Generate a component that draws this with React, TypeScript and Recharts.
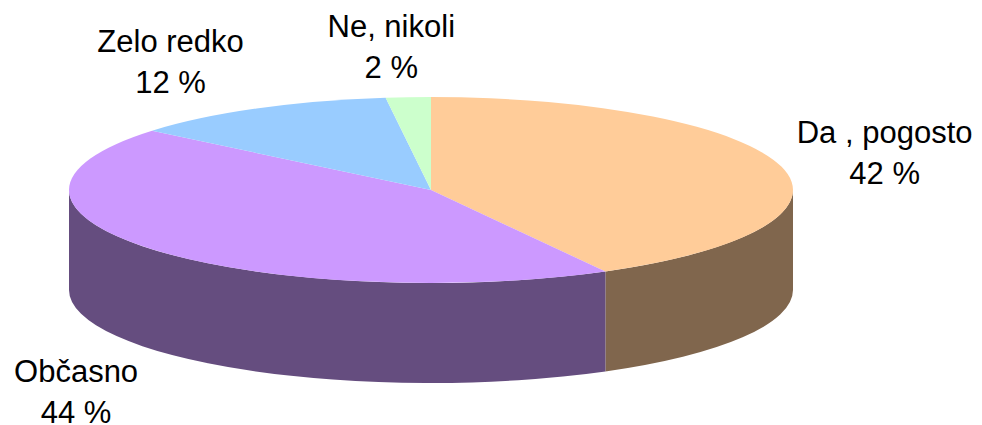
import React from 'react';
import { PieChart, Pie } from 'recharts';

const CATEGORIES = ['Da , pogosto', 'Občasno', 'Zelo redko', 'Ne, nikoli'];
const VALUES = [42, 44, 12, 2];
const VALUE_LABELS = ['42 %', '44 %', '12 %', '2 %'];
const TOP_COLORS = ['#FFCC99', '#CC99FF', '#99CCFF', '#CCFFCC'];
const SIDE_COLORS = ['#80664D', '#654D7F', '#4D6680', '#668066'];

// layout (not data)
const TILT = 93 / 362;
const DEPTH = 100 / 362;
const LABEL_OFFSETS: [number, number][] = [
  [103, -24],
  [-76, 133],
  [-86, -57],
  [-17, -60.5],
];
const FONT = "Arial, 'Liberation Sans', sans-serif";
const FONT_SIZE = 31;
const LINE_GAP = 41;

const data = CATEGORIES.map((name, i) => ({ name, value: VALUES[i] }));
const RAD = Math.PI / 180;

function geom(p: any) {
  const { cx, cy, outerRadius } = p;
  const rx = outerRadius;
  const ry = outerRadius * TILT;
  const depth = outerRadius * DEPTH;
  const pt = (a: number, dy = 0): [number, number] => [
    cx + rx * Math.cos(a * RAD),
    cy - ry * Math.sin(a * RAD) + dy,
  ];
  return { cx, cy, rx, ry, depth, pt };
}

const renderSide = (p: any) => {
  const { startAngle, endAngle, index } = p;
  const { rx, ry, depth, pt } = geom(p);
  const hi = Math.max(startAngle, endAngle);
  const lo = Math.min(startAngle, endAngle);
  const paths: string[] = [];
  for (const k of [-1, 0, 1]) {
    const top = 360 * k;
    const bot = -180 + 360 * k;
    const a1 = Math.min(hi, top);
    const a2 = Math.max(lo, bot);
    if (a1 - a2 > 0.01) {
      const [x1, y1] = pt(a1);
      const [x2, y2] = pt(a2);
      const [bx2, by2] = pt(a2, depth);
      const [bx1, by1] = pt(a1, depth);
      paths.push(
        `M${x1},${y1} A${rx},${ry} 0 0 1 ${x2},${y2} L${bx2},${by2} A${rx},${ry} 0 0 0 ${bx1},${by1} Z`
      );
    }
  }
  return (
    <g key={`side-${index}`}>
      {paths.map((d, j) => (
        <path key={j} d={d} fill={SIDE_COLORS[index]} stroke="none" />
      ))}
    </g>
  );
};

const renderTop = (p: any) => {
  const { startAngle, endAngle, index } = p;
  const { cx, cy, rx, ry, pt } = geom(p);
  const hi = Math.max(startAngle, endAngle);
  const lo = Math.min(startAngle, endAngle);
  const [x1, y1] = pt(hi);
  const [x2, y2] = pt(lo);
  const large = hi - lo > 180 ? 1 : 0;
  const d = `M${cx},${cy} L${x1},${y1} A${rx},${ry} 0 ${large} 1 ${x2},${y2} Z`;
  return <path key={`top-${index}`} d={d} fill={TOP_COLORS[index]} stroke="none" />;
};

const renderText = (p: any) => {
  const { midAngle, index } = p;
  const { pt } = geom(p);
  const [ax, ay] = pt(midAngle);
  const x = ax + LABEL_OFFSETS[index][0];
  const y = ay + LABEL_OFFSETS[index][1];
  return (
    <g key={`txt-${index}`}>
      <text x={x} y={y} textAnchor="middle" fontFamily={FONT} fontSize={FONT_SIZE} fill="#000">
        {CATEGORIES[index]}
      </text>
      <text x={x} y={y + LINE_GAP} textAnchor="middle" fontFamily={FONT} fontSize={FONT_SIZE} fill="#000">
        {VALUE_LABELS[index]}
      </text>
    </g>
  );
};

const pieCommon = {
  data,
  dataKey: 'value',
  nameKey: 'name',
  cx: 431,
  cy: 190,
  innerRadius: 0,
  outerRadius: 362,
  startAngle: 90,
  endAngle: -270,
  fill: 'none',
  stroke: 'none',
  labelLine: false,
  isAnimationActive: false,
};

export default function App() {
  return (
    <div style={{ position: 'absolute', left: 0, top: 0, width: 982, height: 425, background: '#fff' }}>
      <PieChart width={982} height={425} margin={{ top: 0, right: 0, bottom: 0, left: 0 }}>
        <Pie {...(pieCommon as any)} label={renderSide} />
        <Pie {...(pieCommon as any)} label={renderTop} />
        <Pie {...(pieCommon as any)} label={renderText} />
      </PieChart>
    </div>
  );
}
